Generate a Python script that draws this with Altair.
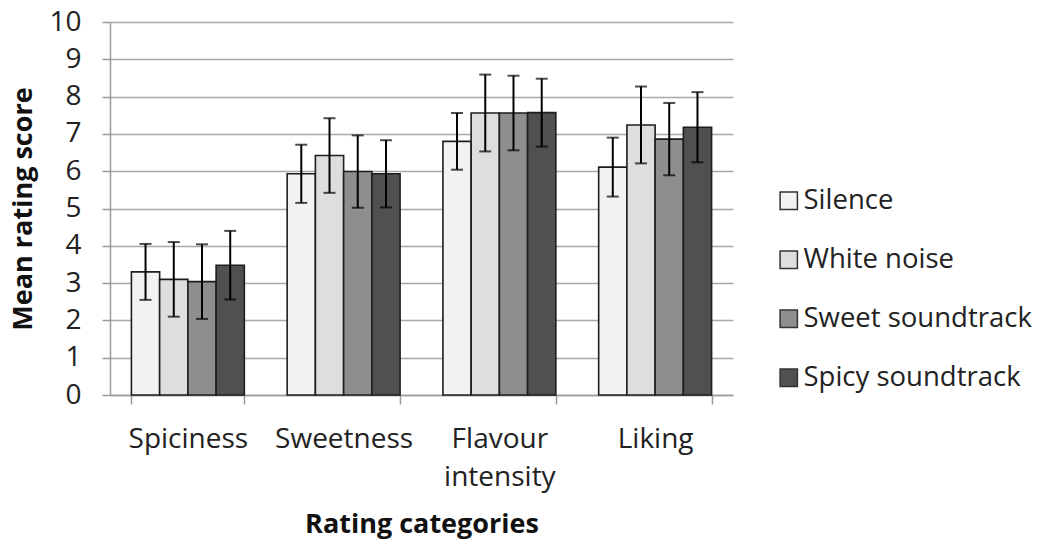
import altair as alt
import pandas as pd

categories = ["Spiciness", "Sweetness", "Flavour intensity", "Liking"]
conditions = ["Silence", "White noise", "Sweet soundtrack", "Spicy soundtrack"]

silence_mean = [3.30, 5.93, 6.80, 6.11]
white_mean = [3.10, 6.42, 7.56, 7.24]
sweet_mean = [3.04, 5.99, 7.56, 6.86]
spicy_mean = [3.48, 5.93, 7.57, 7.18]

silence_err = [0.75, 0.78, 0.76, 0.79]
white_err = [1.00, 1.00, 1.03, 1.03]
sweet_err = [1.00, 0.97, 1.00, 0.97]
spicy_err = [0.92, 0.90, 0.91, 0.94]

colors = ["#f2f2f2", "#dedede", "#8e8e8e", "#505050"]
y_ticks = list(range(0, 11))

means = [silence_mean, white_mean, sweet_mean, spicy_mean]
errs = [silence_err, white_err, sweet_err, spicy_err]
rows = []
for ci, cond in enumerate(conditions):
    for k, cat in enumerate(categories):
        m = means[ci][k]
        e = errs[ci][k]
        rows.append({"category": cat, "condition": cond, "mean": m,
                     "lo": m - e, "hi": m + e})
df = pd.DataFrame(rows)

FONT = "Open Sans"

x_enc = alt.X(
    "category:N", sort=categories,
    scale=alt.Scale(paddingInner=0.275, paddingOuter=0.1375),
    axis=alt.Axis(
        title="Rating categories", labelAngle=0, tickBand="extent",
        labelExpr="datum.label == 'Flavour intensity' ? ['Flavour', 'intensity'] : datum.label",
        labelFontSize=28, labelFont=FONT, labelColor="#222222",
        labelPadding=21, labelLineHeight=38,
        tickSize=9, tickColor="#9a9a9a", tickWidth=1.5,
        domainColor="#9a9a9a", domainWidth=1.5,
        titleFontSize=27, titleFont=FONT, titleFontWeight="bold",
        titleColor="#111111", titlePadding=20, grid=False,
    ),
)
xo_enc = alt.XOffset("condition:N", sort=conditions,
                     scale=alt.Scale(paddingInner=0, paddingOuter=0))

y_scale = alt.Scale(domain=[0, 10], nice=False)
y_axis = alt.Axis(
    title="Mean rating score", values=y_ticks,
    labelFontSize=28, labelFont=FONT, labelColor="#222222",
    labelPadding=21, tickSize=8, tickColor="#9a9a9a", tickWidth=1.5,
    domainColor="#9a9a9a", domainWidth=1.5,
    gridColor="#a8a8a8", gridWidth=1.5,
    titleFontSize=27, titleFont=FONT, titleFontWeight="bold",
    titleColor="#111111", titlePadding=11,
)

base = alt.Chart(df)

bars = base.mark_bar(stroke="#1e1e1e", strokeWidth=1.6).encode(
    x=x_enc,
    xOffset=xo_enc,
    y=alt.Y("mean:Q", scale=y_scale, axis=y_axis),
    color=alt.Color("condition:N", sort=conditions,
                    scale=alt.Scale(domain=conditions, range=colors),
                    legend=alt.Legend(
                        title=None, orient="none", legendX=665, legendY=165,
                        symbolType="square", symbolSize=300,
                        symbolStrokeColor="#333333", symbolStrokeWidth=1.5,
                        labelFontSize=27.5, labelFont=FONT, labelColor="#222222",
                        rowPadding=30, labelOffset=1, labelLimit=0,
                    )),
)

rules = base.mark_rule(color="black", strokeWidth=2).encode(
    x=x_enc, xOffset=xo_enc,
    y=alt.Y("lo:Q", scale=y_scale, axis=y_axis), y2="hi:Q",
)
caps_hi = base.mark_tick(color="black", thickness=2, size=12).encode(
    x=x_enc, xOffset=xo_enc, y=alt.Y("hi:Q", scale=y_scale, axis=y_axis),
)
caps_lo = base.mark_tick(color="black", thickness=2, size=12).encode(
    x=x_enc, xOffset=xo_enc, y=alt.Y("lo:Q", scale=y_scale, axis=y_axis),
)

chart = alt.layer(bars, rules, caps_hi, caps_lo).properties(
    width=623, height=373,
    autosize=alt.AutoSizeParams(type="none"),
    padding={"left": 102, "top": 14, "right": 302, "bottom": 150},
).configure_view(stroke=None)

chart.save("out.html", embed_options={"renderer": "svg", "actions": False})
